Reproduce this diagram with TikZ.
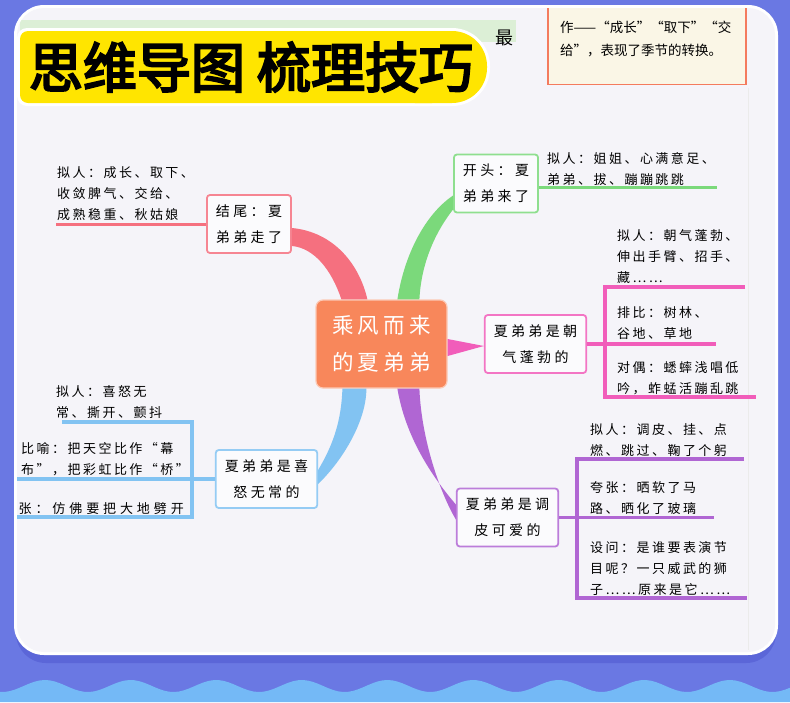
\documentclass[tikz,border=0pt]{standalone}
\usepackage{fontspec}
\setmainfont{Noto Sans CJK SC}
\newfontfamily\titlefnt[FakeBold=4]{Noto Sans CJK SC}
\usetikzlibrary{calc}
\definecolor{bgblue}{HTML}{6A78E3}
\definecolor{shadowblue}{HTML}{5B66D8}
\definecolor{waveblue}{HTML}{74B9F6}
\definecolor{paper}{HTML}{F5F4F9}
\definecolor{bannery}{HTML}{FFE500}
\definecolor{rootfill}{HTML}{F8875B}
\definecolor{brred}{HTML}{F5707F}
\definecolor{brgreen}{HTML}{7BD97B}
\definecolor{brpink}{HTML}{F15DBA}
\definecolor{brblue}{HTML}{82C3F2}
\definecolor{brpurple}{HTML}{B066D3}
\definecolor{hlgreen}{HTML}{DCEFD6}
\definecolor{notebg}{HTML}{FAF6E6}
\definecolor{noteedge}{HTML}{F47B5E}
\newcommand\lblfont{\fontsize{13}{21}\selectfont\addfontfeature{LetterSpace=19}}
\newcommand\topicfont{\fontsize{14}{26}\selectfont\addfontfeature{LetterSpace=24}}
\newcommand\rootfont{\fontsize{21.5}{37}\selectfont\addfontfeature{LetterSpace=20}}
\tikzset{
  root/.style={draw=white!55!rootfill, line width=1.2pt, fill=rootfill, rounded corners=7pt,
               text=white, align=center, font=\rootfont, minimum width=131pt,
               minimum height=88pt, inner sep=0pt},
  topic/.style={draw=#1!85!white, line width=1.8pt, fill=white!60!paper, rounded corners=3pt,
                align=center, font=\topicfont, inner xsep=9pt, minimum height=58pt},
  lbl/.style={anchor=base west, align=left, font=\lblfont, inner sep=0pt},
  bar/.style={line width=3.6pt, draw=#1},
}

\begin{document}
\begin{tikzpicture}[x=1pt,y=-1pt]
    \useasboundingbox (0,0) rectangle (790,702);
    \fill[bgblue] (0,0) rectangle (790,702);
    \fill[waveblue] (0,702) -- plot[domain=0:790,samples=160]
      (\x,{686-6*cos(4.2056*(\x-45))}) -- (790,702) -- cycle;
    % page card
    \fill[shadowblue, rounded corners=30pt] (16,14) rectangle (776,663);
    \fill[white, rounded corners=30pt] (14,5) rectangle (778,655);
    \fill[paper, rounded corners=27pt] (17,8) rectangle (775,652);

    \begin{scope}
    \clip[rounded corners=27pt] (17,8) rectangle (775,652);
    \fill[hlgreen] (20,20) rectangle (516,42);
    \node[font=\fontsize{18}{20}\selectfont] (zui) at (504,38) {最};
    \draw[black!8, line width=1pt] (748,88) -- (748,650);
    \node[draw=noteedge, line width=1.5pt, fill=notebg, minimum width=198pt,
      minimum height=95pt, anchor=south west, inner sep=0pt] (note) at (547,85) {};
    \node[lbl, font=\fontsize{13.5}{23}\selectfont] (notetxt) at (560,55)
      {作——“成长”“取下”“交\\给”，表现了季节的转换。};

    \node[root] (root) at (381.5,344) {乘风而来\\的夏弟弟};
    \node[topic=brred] (jiewei) at (249,224) {结尾：夏\\弟弟走了};
    \node[topic=brgreen] (kaitou) at (496,183.5) {开头：夏\\弟弟来了};
    \node[topic=brpink] (chaoqi) at (535.5,344) {夏弟弟是朝\\气蓬勃的};
    \node[topic=brblue] (xinu) at (266.5,479) {夏弟弟是喜\\怒无常的};
    \node[topic=brpurple] (tiaopi) at (507.5,517.5) {夏弟弟是调\\皮可爱的};

    % tapered branches
    \fill[brred] ([yshift=-4pt]jiewei.east) .. controls +(42,4) and +(-8,-35)
      .. ([xshift=52pt]root.north west) -- ([xshift=26pt]root.north west)
      .. controls +(-10,-30) and +(22,2) .. ([yshift=-22pt]jiewei.east) -- cycle;
    \fill[brgreen] ([xshift=82pt]root.north west) .. controls +(7,-45) and +(-28,19)
      .. ([yshift=-12pt]kaitou.west) -- ([yshift=-26pt]kaitou.west)
      .. controls +(-15,19) and +(2,-40) .. ([xshift=104pt]root.north west) -- cycle;
    \fill[brpink] ([yshift=5pt]root.east) -- ([yshift=-2pt]chaoqi.west)
      -- ([yshift=-12pt]root.east) -- cycle;
    \fill[brblue] ([xshift=27pt]root.south west) .. controls +(-1,32) and +(15,-25)
      .. ([yshift=9pt]xinu.east) -- ([yshift=-5pt]xinu.east)
      .. controls +(25,-24) and +(0,32) .. ([xshift=51pt]root.south west) -- cycle;
    \fill[brpurple] ([xshift=82pt]root.south west) .. controls +(7,42) and +(-30,-35)
      .. ([yshift=13pt]tiaopi.west) -- ([yshift=-2pt]tiaopi.west)
      .. controls +(-15,-25) and +(2,52) .. ([xshift=104pt]root.south west) -- cycle;

    \draw[bar=brred, line width=3pt] (jiewei.west) -- ++(-150,0);
    \draw[bar=brgreen] ([yshift=-4pt]kaitou.east) -- ++(178,0);
    \draw[bar=brpink] (chaoqi.east) -- ++(18,0) coordinate (cqj) -- ++(111,0);
    \draw[bar=brpink] ($(cqj)+(140,-57)$) -- ($(cqj)+(0,-57)$) -- ($(cqj)+(0,53)$)
      -- ++(151,0);
    \draw[bar=brpurple] (tiaopi.east) -- ++(18,0) coordinate (tpj) -- ++(137,0);
    \draw[bar=brpurple] ($(tpj)+(167,-58.5)$) -- ($(tpj)+(0,-58.5)$)
      -- ($(tpj)+(0,80.5)$) -- ++(170,0);
    \draw[bar=brblue] (xinu.west) -- ++(-23,0) coordinate (xnj) -- ++(-200,0);
    \draw[bar=brblue] ($(xnj)+(-130,-57)$) -- ($(xnj)+(0,-57)$) -- ($(xnj)+(0,38)$)
      -- ++(-200,0);

    % labels sit on the baseline of their last line
    \node[lbl] (jw-txt) at (57,219) {拟人：成长、取下、\\收敛脾气、交给、\\成熟稳重、秋姑娘};
    \node[lbl] (kt-txt) at (547,184) {拟人：姐姐、心满意足、\\弟弟、拔、蹦蹦跳跳};
    \node[lbl] (cq-txt1) at (617,282) {拟人：朝气蓬勃、\\伸出手臂、招手、\\藏……};
    \node[lbl] (cq-txt2) at (617,338) {排比：树林、\\谷地、草地};
    \node[lbl] (cq-txt3) at (617,393) {对偶：蟋蟀浅唱低\\吟，蚱蜢活蹦乱跳};
    \node[lbl] (tp-txt1) at (590,455) {拟人：调皮、挂、点\\燃、跳过、鞠了个躬};
    \node[lbl] (tp-txt2) at (590,513) {夸张：晒软了马\\路、晒化了玻璃};
    \node[lbl] (tp-txt3) at (590,594) {设问：是谁要表演节\\目呢？一只威武的狮\\子……原来是它……};
    \node[lbl] (xn-txt1) at (56,417) {拟人：喜怒无\\常、撕开、颤抖};
    \node[lbl] (xn-txt2) at (21,474) {比喻：把天空比作“幕\\布”，把彩虹比作“桥”};
    \node[lbl, anchor=base east, font=\lblfont\addfontfeature{LetterSpace=30}] (xn-txt3)
      at (184,513) {夸张：仿佛要把大地劈开};
    \end{scope}

    % title banner
    \fill[white, rounded corners=10pt] (17,28) rectangle (440,106);
    \fill[white, rounded corners=38pt] (380,28) rectangle (490,106);
    \fill[bannery, rounded corners=8pt] (20,31) rectangle (440,103);
    \fill[bannery, rounded corners=35pt] (380,31) rectangle (487,103);
    \node[font=\titlefnt\fontsize{54}{60}\selectfont] (title) at (251,67) {思维导图 梳理技巧};
\end{tikzpicture}
\end{document}
